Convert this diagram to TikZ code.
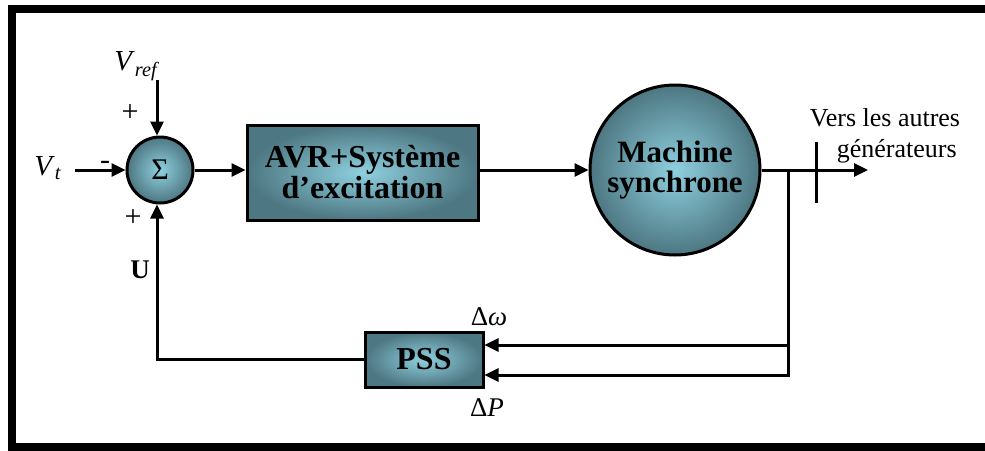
\documentclass[tikz,border=0pt]{standalone}
\usepackage{fontspec}
\setmainfont{Liberation Serif}
\usetikzlibrary{arrows.meta}
\definecolor{tealin}{HTML}{8FD0DF}
\definecolor{tealout}{HTML}{4D7782}
\tikzset{
  blockfill/.style={draw=black, line width=3pt, inner color=tealin, outer color=tealout},
  sumnode/.style={blockfill, circle, minimum size=66pt, inner sep=0pt},
  boxnode/.style={blockfill, rectangle, inner sep=0pt, font=\fontsize{32}{34}\selectfont\bfseries, align=center},
  arr/.style={line width=3pt, -{Triangle[length=14pt,width=13pt]}},
  wire/.style={line width=3pt},
  lbl/.style={inner sep=0pt, font=\fontsize{30}{32}\selectfont},
}
\begin{document}
\begin{tikzpicture}[x=1pt,y=-1pt]
\useasboundingbox (0,0) rectangle (985,450);
\fill[white] (0,0) rectangle (985,450);
% frame
\draw[line width=8pt] (1000,9) -- (12,9) -- (12,447) -- (1000,447);

% nodes
\node[sumnode, font=\fontsize{30}{32}\selectfont] (sum) at (160,170) {Σ};
\node[boxnode, minimum width=231pt, minimum height=95pt] (avr) at (362.5,172.5) {AVR+Système\\[-3pt]d’excitation};
\node[blockfill, circle, minimum size=170pt, inner sep=0pt, font=\fontsize{31}{33}\selectfont\bfseries, align=center] (mach) at (675,170) {Machine\\[-3pt]synchrone};
\node[boxnode, minimum width=118pt, minimum height=55pt] (pss) at (424,359.5) {PSS};

% labels
\node[lbl, font=\fontsize{29}{30}\selectfont] (vref) at (137,66) {\textit{V}\textsubscript{\textit{ref}}};
\node[lbl, font=\fontsize{29}{30}\selectfont] (vt) at (48,168) {\textit{V}\textsubscript{\textit{t}}};
\node[lbl] (p1) at (130,113) {+};
\node[lbl] (m1) at (105,165) {-};
\node[lbl] (p2) at (133,218) {+};
\node[lbl, font=\fontsize{27}{28}\selectfont\bfseries] (u) at (140,270) {U};
\node[lbl, font=\fontsize{27}{28}\selectfont] (dw) at (489,317) {Δ\textit{ω}};
\node[lbl, font=\fontsize{27}{28}\selectfont] (dp) at (487,408) {Δ\textit{P}};
\node[lbl, align=center, font=\fontsize{26}{31}\selectfont] (vers) at (885,136) {Vers les autres\\\hspace*{0.9em}générateurs};

% coordinates
\coordinate (vrefs) at (157,80);
\coordinate (vts) at (75,170);
\coordinate (b1) at (788,170);
\coordinate (outend) at (868,170);
\coordinate (t1) at (816,142);
\coordinate (t2) at (816,203);

% connectors
\draw[arr] (vrefs) -- (vrefs |- sum.north);
\draw[arr] (vts) -- (sum.west);
\draw[arr] (sum.east) -- (sum.east -| avr.west);
\draw[arr] (avr.east |- mach.west) -- (mach.west);
\draw[arr] (mach.east) -- (outend);
\draw[wire] (t1) -- (t2);
\draw[arr] (b1) |- ([yshift=-15.5pt]pss.east);
\draw[arr] ([yshift=14.5pt]pss.east -| b1) -- ([yshift=14.5pt]pss.east);
\draw[arr] (pss.west) -| (vrefs |- sum.south);
\end{tikzpicture}
\end{document}
